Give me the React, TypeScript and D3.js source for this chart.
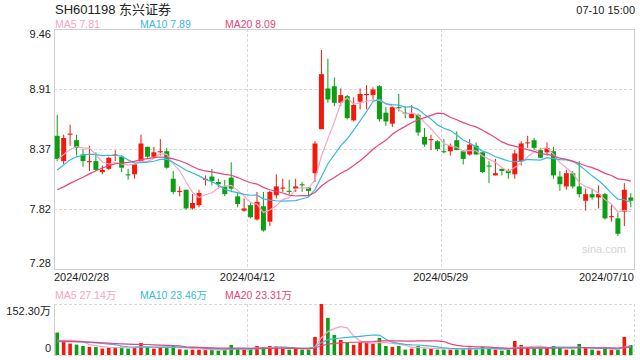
import React from 'react';
import * as d3 from 'd3';

const W = 640;
const H = 360;

// estimated closes / volumes of the 19 sessions before the first visible one (only feed the moving averages)
const priorCloses = [7.95, 7.88, 7.8, 7.72, 7.65, 7.6, 7.7, 7.85, 7.98, 8.07, 8.02, 8.05, 8.1, 8.12, 8.16, 8.22, 8.28, 8.25, 8.32];
const priorVolumes = [48, 52, 45, 40, 44, 38, 47, 42, 41, 43, 34, 38, 36, 35, 37, 40, 36, 39, 38];

const opens = [
  8.49, 8.26, 8.5, 8.45, 8.32, 8.25, 8.26, 8.16, 8.19, 8.31,
  8.3, 8.14, 8.14, 8.26, 8.39, 8.3, 8.34, 8.35, 8.1, 7.98,
  8.0, 7.83, 7.86, 8.09, 8.12, 8.07, 8.03, 8.11, 7.94, 7.81,
  7.86, 7.73, 7.85, 7.71, 7.95, 8.01, 7.99, 8.01, 8.05, 8.02,
  8.15, 8.55, 8.92, 8.94, 8.79, 8.85, 8.63, 8.8, 8.86, 8.86,
  8.94, 8.7, 8.6, 8.75, 8.7, 8.65, 8.68, 8.48, 8.45, 8.44,
  8.35, 8.35, 8.45, 8.35, 8.32, 8.4, 8.34, 8.22, 8.13, 8.19,
  8.17, 8.14, 8.26, 8.43, 8.45, 8.36, 8.34, 8.35, 8.12, 8.03,
  8.15, 8.03, 7.9, 7.96, 7.93, 7.96, 7.75, 7.74, 7.8, 7.93,
];
const highs = [
  8.68, 8.5, 8.59, 8.5, 8.37, 8.4, 8.34, 8.22, 8.3, 8.36,
  8.31, 8.19, 8.23, 8.5, 8.39, 8.39, 8.46, 8.38, 8.17, 8.03,
  8.0, 7.96, 8.0, 8.13, 8.19, 8.1, 8.09, 8.25, 7.98, 7.92,
  7.88, 7.98, 7.98, 7.99, 8.14, 8.1, 8.09, 8.1, 8.07, 8.02,
  8.44, 9.27, 9.19, 9.02, 8.92, 8.86, 8.84, 8.92, 8.95, 8.93,
  8.95, 8.75, 8.76, 8.87, 8.76, 8.77, 8.69, 8.56, 8.5, 8.45,
  8.46, 8.42, 8.53, 8.36, 8.46, 8.43, 8.35, 8.26, 8.28, 8.19,
  8.19, 8.36, 8.44, 8.49, 8.47, 8.38, 8.43, 8.39, 8.17, 8.18,
  8.17, 8.26, 8.01, 8.01, 8.04, 7.97, 7.86, 7.79, 8.06, 7.97,
];
const lows = [
  8.26, 8.23, 8.4, 8.31, 8.21, 8.17, 8.17, 8.14, 8.18, 8.26,
  8.16, 8.09, 8.1, 8.26, 8.29, 8.28, 8.31, 8.19, 7.96, 7.94,
  7.82, 7.82, 7.84, 8.04, 8.04, 8.02, 7.94, 7.99, 7.84, 7.8,
  7.74, 7.72, 7.62, 7.67, 7.92, 7.98, 7.96, 7.98, 7.98, 7.95,
  8.07, 8.55, 8.79, 8.76, 8.76, 8.64, 8.62, 8.73, 8.73, 8.82,
  8.62, 8.58, 8.57, 8.71, 8.65, 8.65, 8.49, 8.39, 8.36, 8.35,
  8.33, 8.31, 8.36, 8.23, 8.31, 8.32, 8.15, 8.06, 8.13, 8.13,
  8.1, 8.1, 8.22, 8.38, 8.36, 8.29, 8.31, 8.1, 7.99, 8.0,
  8.01, 7.93, 7.81, 7.91, 7.83, 7.73, 7.71, 7.58, 7.67, 7.84,
];
const closes = [
  8.28, 8.47, 8.51, 8.38, 8.26, 8.26, 8.18, 8.18, 8.29, 8.32,
  8.2, 8.13, 8.23, 8.42, 8.3, 8.34, 8.35, 8.2, 7.98, 7.99,
  7.83, 7.88, 7.97, 8.1, 8.08, 8.05, 7.96, 8.01, 7.87, 7.83,
  7.75, 7.89, 7.63, 7.98, 8.03, 8.02, 7.98, 8.03, 8.04, 7.99,
  8.42, 9.05, 8.82, 8.79, 8.86, 8.65, 8.77, 8.87, 8.87, 8.91,
  8.64, 8.62, 8.75, 8.74, 8.69, 8.69, 8.52, 8.41, 8.46, 8.37,
  8.34, 8.4, 8.36, 8.28, 8.41, 8.32, 8.16, 8.21, 8.15, 8.17,
  8.15, 8.33, 8.42, 8.43, 8.38, 8.29, 8.38, 8.13, 8.05, 8.15,
  8.03, 7.96, 7.96, 7.93, 7.96, 7.74, 7.76, 7.6, 8.0, 7.9,
];
const volumes = [
  67, 40, 34, 31, 27, 24, 24, 19, 22, 22,
  25, 19, 22, 36, 24, 19, 22, 22, 28, 17,
  16, 16, 16, 16, 16, 13, 16, 30, 19, 16,
  16, 27, 24, 27, 27, 19, 16, 19, 16, 16,
  54, 152.3, 111, 60, 45, 37, 30, 37, 37, 34,
  51, 27, 24, 27, 16, 19, 27, 19, 19, 16,
  16, 16, 19, 19, 22, 16, 24, 19, 16, 13,
  16, 42, 30, 22, 19, 19, 24, 27, 22, 16,
  16, 33, 22, 16, 13, 19, 16, 16, 54, 30,
];

const dateTickLabels = ['2024/02/28', '2024/04/12', '2024/05/29', '2024/07/10'];
const dateTickIndex = [0, 30, 60, 89];
const priceTicks = [9.46, 8.915, 8.37, 7.825, 7.28];
const priceTickLabels = ['9.46', '8.91', '8.37', '7.82', '7.28'];
const volTicks = [152.3, 0];
const volTickLabels = ['152.30万', '0'];

const titleText = 'SH601198 东兴证券';
const timeText = '07-10 15:00';
const maNames = ['MA5', 'MA10', 'MA20'];
const maPeriods = [5, 10, 20];
const priceLegendValues = ['7.81', '7.89', '8.09'];
const volLegendValues = ['27.14万', '23.46万', '23.31万'];

const MA_COLORS = ['#f7a3c4', '#35bbe0', '#e8437b'];
const UP = '#f3190c';
const DOWN = '#0c9f14';
const FONT = '"Liberation Sans", Arial, Helvetica, "Noto Sans CJK SC", sans-serif';

function movingAverage(prior: number[], vals: number[], n: number): number[] {
  const all = prior.concat(vals);
  const off = prior.length;
  return vals.map((_, i) => {
    const end = i + off;
    const slice = all.slice(end - n + 1, end + 1);
    return d3.mean(slice) as number;
  });
}

export default function App() {
  const left = 54;
  const right = 634;
  const top = 29;
  const bottom = 269;
  const vTop = 304;
  const vBottom = 355;

  const idx = d3.range(closes.length);
  const x = d3.scaleBand<number>().domain(idx).range([left, right]);
  const cx = (i: number) => (x(i) as number) + x.bandwidth() / 2;
  const y = d3.scaleLinear().domain([7.28, 9.46]).range([bottom, top]);
  const yv = d3.scaleLinear().domain([0, 152.3]).range([vBottom, vTop]);

  const bodyW = 5;
  const volW = 3.6;

  const priceMAs = maPeriods.map((p) => movingAverage(priorCloses, closes, p));
  const volMAs = maPeriods.map((p) => movingAverage(priorVolumes, volumes, p));

  const linePrice = d3
    .line<number>()
    .x((_, i) => cx(i))
    .y((d) => y(d));
  const lineVol = d3
    .line<number>()
    .x((_, i) => cx(i))
    .y((d) => yv(d));

  const legendX = [55, 140, 225];
  const gridColor = '#d8d8d8';

  return (
    <svg
      width={W}
      height={H}
      style={{ position: 'fixed', left: 0, top: 0, background: '#fff' }}
      fontFamily={FONT}
    >
      <rect x={0} y={0} width={W} height={H} fill="#fff" />
      {/* header */}
      <text x={55} y={9} fontSize={13} fill="#222" dominantBaseline="central">
        {titleText}
      </text>
      <text x={635} y={10} fontSize={11} fill="#222" textAnchor="end" dominantBaseline="central">
        {timeText}
      </text>
      {maNames.map((n, k) => (
        <text
          key={'pl' + k}
          x={legendX[k]}
          y={24}
          fontSize={10.5}
          fill={MA_COLORS[k]}
          dominantBaseline="central"
        >
          {n + ' ' + priceLegendValues[k]}
        </text>
      ))}

      {/* price grid */}
      {priceTicks.slice(1, -1).map((t, k) => (
        <line
          key={'g' + k}
          x1={left}
          x2={right}
          y1={Math.round(y(t)) + 0.5}
          y2={Math.round(y(t)) + 0.5}
          stroke={gridColor}
          strokeWidth={1}
          strokeDasharray="3,2"
        />
      ))}
      {dateTickIndex.slice(1, -1).map((di, k) => (
        <g key={'vg' + k}>
          <line
            x1={Math.round(x(di) as number) + 0.5}
            x2={Math.round(x(di) as number) + 0.5}
            y1={top}
            y2={bottom}
            stroke={gridColor}
            strokeDasharray="3,2"
          />
          <line
            x1={Math.round(x(di) as number) + 0.5}
            x2={Math.round(x(di) as number) + 0.5}
            y1={vTop}
            y2={vBottom}
            stroke={gridColor}
            strokeDasharray="3,2"
          />
        </g>
      ))}
      <rect
        x={left + 0.5}
        y={top + 0.5}
        width={right - left}
        height={bottom - top}
        fill="none"
        stroke="#cfcfcf"
        strokeWidth={1}
      />

      {/* price axis labels */}
      {priceTicks.map((t, k) => {
        let yy = y(t);
        if (k === 0) yy += 5;
        if (k === priceTicks.length - 1) yy -= 6;
        return (
          <text
            key={'pt' + k}
            x={51}
            y={yy}
            fontSize={11}
            fill="#222"
            textAnchor="end"
            dominantBaseline="central"
          >
            {priceTickLabels[k]}
          </text>
        );
      })}

      {/* date labels */}
      {dateTickIndex.map((di, k) => {
        const anchor = k === 0 ? 'start' : k === dateTickIndex.length - 1 ? 'end' : 'middle';
        const xx = k === 0 ? left : k === dateTickIndex.length - 1 ? right : (x(di) as number);
        return (
          <text
            key={'dt' + k}
            x={xx}
            y={277}
            fontSize={11}
            fill="#222"
            textAnchor={anchor}
            dominantBaseline="central"
          >
            {dateTickLabels[k]}
          </text>
        );
      })}

      {/* watermark */}
      <text x={582} y={249} fontSize={11} fill="#d4d4d4" dominantBaseline="central">
        sina.com
      </text>

      {/* candles */}
      {idx.map((i) => {
        const o = opens[i];
        const c = closes[i];
        const up = c >= o;
        const col = up ? UP : DOWN;
        const yTop = y(Math.max(o, c));
        const yBot = y(Math.min(o, c));
        const h = Math.max(1, yBot - yTop);
        return (
          <g key={'c' + i}>
            <line x1={cx(i)} x2={cx(i)} y1={y(highs[i])} y2={y(lows[i])} stroke={col} strokeWidth={1} />
            <rect x={cx(i) - bodyW / 2} y={yTop} width={bodyW} height={h} fill={col} />
          </g>
        );
      })}

      {/* price MAs */}
      {priceMAs.map((m, k) => (
        <path key={'pm' + k} d={linePrice(m) as string} fill="none" stroke={MA_COLORS[k]} strokeWidth={1.2} />
      ))}

      {/* volume legend */}
      {maNames.map((n, k) => (
        <text
          key={'vl' + k}
          x={legendX[k]}
          y={295}
          fontSize={10.5}
          fill={MA_COLORS[k]}
          dominantBaseline="central"
        >
          {n + ' ' + volLegendValues[k]}
        </text>
      ))}

      {/* volume frame */}
      <line x1={left} x2={right} y1={vTop + 0.5} y2={vTop + 0.5} stroke={gridColor} strokeDasharray="3,2" />
      <line x1={left} x2={right} y1={vBottom + 0.5} y2={vBottom + 0.5} stroke={gridColor} strokeDasharray="3,2" />
      <line x1={right + 0.5} x2={right + 0.5} y1={vTop} y2={vBottom} stroke={gridColor} strokeDasharray="3,2" />
      <line x1={left + 0.5} x2={left + 0.5} y1={vTop} y2={vBottom + 1} stroke="#cfcfcf" />

      {volTicks.map((t, k) => (
        <text
          key={'vt' + k}
          x={51}
          y={yv(t) + (k === 0 ? 7 : -7)}
          fontSize={11}
          fill="#222"
          textAnchor="end"
          dominantBaseline="central"
        >
          {volTickLabels[k]}
        </text>
      ))}

      {/* volume bars */}
      {idx.map((i) => {
        const up = closes[i] >= opens[i];
        return (
          <rect
            key={'v' + i}
            x={cx(i) - volW / 2}
            y={yv(volumes[i])}
            width={volW}
            height={vBottom - yv(volumes[i])}
            fill={up ? UP : DOWN}
          />
        );
      })}
      {volMAs.map((m, k) => (
        <path key={'vm' + k} d={lineVol(m) as string} fill="none" stroke={MA_COLORS[k]} strokeWidth={1.2} />
      ))}
    </svg>
  );
}
